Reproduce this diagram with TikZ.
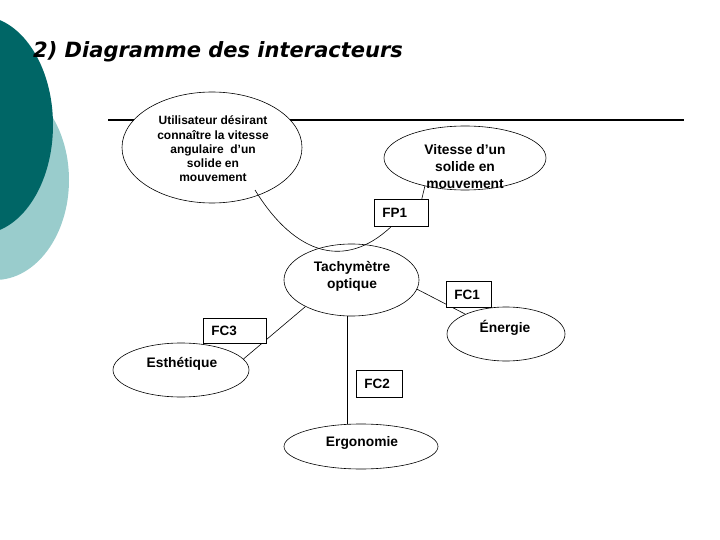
\documentclass[tikz,border=0pt]{standalone}
\usepackage{fontspec}
\setmainfont{Liberation Sans}
\newfontfamily\titlefont{DejaVu Sans}
\usetikzlibrary{shapes.geometric}
\pgfdeclarelayer{background}
\pgfdeclarelayer{foreground}
\pgfsetlayers{background,main,foreground}
\definecolor{tealdark}{RGB}{0,102,102}
\definecolor{teallight}{RGB}{153,204,204}
\begin{document}
\begin{tikzpicture}[x=1pt,y=-1pt,
  ell/.style={draw, ellipse, fill=white, line width=0.6pt, inner sep=0pt},
  lbl/.style={font=\bfseries\fontsize{13.8}{17}\selectfont, align=center, inner sep=0pt},
  fbox/.style={draw, fill=white, line width=0.8pt, rectangle, anchor=north west, align=left,
    inner xsep=8pt, inner ysep=0pt, font=\bfseries\fontsize{13.5}{16}\selectfont},
  link/.style={line width=0.6pt}]
\useasboundingbox (0,0) rectangle (720,540);
\clip (0,0) rectangle (720,540);
% decorations
\fill[teallight] (-5,180) ellipse [x radius=74, y radius=100];
\fill[tealdark] (-20,125) ellipse [x radius=73, y radius=109];
% title
\node[anchor=base west, inner sep=0pt, font=\titlefont\bfseries\itshape\fontsize{21}{25}\selectfont] (title) at (33,58) {2) Diagramme des interacteurs};
% ellipses
\node[ell, minimum width=180pt, minimum height=111pt] (u) at (212,147.5) {};
\node[ell, minimum width=162pt, minimum height=64pt] (v) at (465,158) {};
\node[ell, minimum width=135pt, minimum height=72pt] (t) at (351.5,280) {};
\node[ell, minimum width=118pt, minimum height=54pt] (en) at (506,334) {};
\node[ell, minimum width=136pt, minimum height=54pt] (es) at (181,370) {};
\node[ell, minimum width=154pt, minimum height=45pt] (er) at (361,446.5) {};
% boxes
\node[fbox, minimum height=27pt, text width=38pt] (fp1) at (374,199) {FP1};
\node[fbox, minimum height=26pt, text width=29pt] (fc1) at (446,281) {FC1};
\node[fbox, minimum height=25pt, text width=47pt] (fc3) at (203,318) {FC3};
\node[fbox, minimum height=27pt, text width=30pt] (fc2) at (356,370) {FC2};
% texts
\node[lbl, font=\bfseries\fontsize{12}{14.3}\selectfont] (ut) at (213,149) {Utilisateur désirant\\connaître la vitesse\\angulaire\ \ d’un\\solide en\\mouvement};
\node[lbl] (vt) at (465,167) {Vitesse d’un\\solide en\\mouvement};
\node[lbl] (tt) at (352,276) {Tachymètre\\optique};
\node[lbl] (ent) at (505,328) {Énergie};
\node[lbl] (est) at (182,364) {Esthétique};
\node[lbl] (ert) at (362,443) {Ergonomie};
% connectors
\coordinate (c1s) at (255,190);
\begin{pgfonlayer}{background}
\draw[line width=2.2pt] (108,120) -- (684,120);
\draw[link] (t.-8) -- (en.154);
\draw[link] (t.210) -- (es.10);
\draw[link] (t.263) -- (t.263 |- er.north);
\end{pgfonlayer}
\begin{pgfonlayer}{foreground}
\draw[link] (c1s) .. controls (295,255) and (345,270) .. ([xshift=17pt]fp1.south west);
\draw[link] ([xshift=-7pt]fp1.north east) -- (v.215);
\end{pgfonlayer}
\end{tikzpicture}
\end{document}
